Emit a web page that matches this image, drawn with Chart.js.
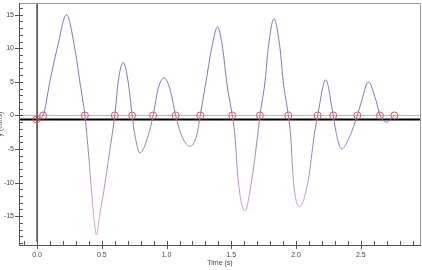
<!DOCTYPE html>
<html>
<head>
<meta charset="utf-8">
<script src="https://cdn.jsdelivr.net/npm/chart.js@4.4.0/dist/chart.umd.min.js"></script>
<style>
  html, body { margin: 0; padding: 0; background: #fff; }
  #wrap { width: 422px; height: 270px; }
</style>
</head>
<body>
<div id="wrap"><canvas id="velChart"></canvas></div>
<script>
// - Velocity trace

const timeS = [
  0.000, 0.046, 0.098, 0.155, 0.227, 0.291, 0.330, 0.369,
  0.394, 0.415, 0.437, 0.459, 0.482, 0.525, 0.563, 0.600,
  0.626, 0.665, 0.703, 0.734,
  0.756, 0.794, 0.858, 0.896,
  0.935, 0.979, 1.025, 1.070,
  1.116, 1.180, 1.232, 1.260,
  1.304, 1.348, 1.394, 1.433, 1.464, 1.507,
  1.528, 1.553, 1.605, 1.657, 1.703, 1.721,
  1.760, 1.785, 1.829, 1.876, 1.901, 1.940,
  1.958, 1.979, 2.025, 2.094, 2.140, 2.167,
  2.229, 2.287,
  2.314, 2.352, 2.417, 2.473,
  2.507, 2.558, 2.618, 2.648,
  2.700, 2.759
]
const velocity = [
  -0.6, 0, 5, 10, 15, 10, 5, 0,
  -5, -10, -15, -17.8, -15, -10, -5, 0,
  5, 7.9, 5, 0,
  -3, -5.6, -3, 0,
  4, 5.6, 4, 0,
  -3, -4.6, -3, 0,
  5, 10, 13.2, 10, 5, 0,
  -3, -9.7, -14.2, -9.7, -3, 0,
  5, 10, 14.4, 10, 5, 0,
  -3, -9.7, -13.6, -9.7, -3, 0,
  5.3, 0,
  -3, -5.0, -3, 0,
  2.2, 5.0, 2.2, 0,
  -1.0, 0
]

// - Zero crossings (red circles)

const crossT = [-0.005, 0.046, 0.369, 0.600, 0.734, 0.896, 1.070, 1.260, 1.507, 1.721, 1.940, 2.167, 2.287, 2.473, 2.648, 2.759]
const crossV = [-0.6, 0, 0, 0, 0, 0, 0, 0, 0, 0, 0, 0, 0, 0, 0, 0]

// - Axes

const xMin = -0.14
const xMax = 2.965
const yMin = -19.3
const yMax = 16.75
const baseLevel = -0.6

const isStep = (v, s) => Math.abs(v / s - Math.round(v / s)) < 1e-6

Chart.defaults.font.family = '"Liberation Sans", Arial, sans-serif'
Chart.defaults.font.size = 7
Chart.defaults.color = '#444'

const traceColor = (ctx) => {
  const chart = ctx.chart
  if (!chart.chartArea) return '#7878cc'
  const y = chart.scales.y
  const g = chart.ctx.createLinearGradient(0, y.getPixelForValue(0), 0, y.getPixelForValue(-15))
  g.addColorStop(0, '#7878cc')
  g.addColorStop(1, '#dc9cc8')
  return g
}

// inward ticks + frame
const frame = {
  id: 'frame',
  afterDatasetsDraw(chart) {
    const { ctx, chartArea: a, scales: { x, y } } = chart
    ctx.save()
    ctx.lineWidth = 1
    ctx.strokeStyle = '#999'
    ctx.beginPath()
    ctx.moveTo(a.left, a.top + 0.5)
    ctx.lineTo(a.right - 0.5, a.top + 0.5)
    ctx.lineTo(a.right - 0.5, a.bottom)
    ctx.stroke()

    ctx.strokeStyle = '#555'
    ctx.beginPath()
    ctx.moveTo(a.left + 0.5, a.top)
    ctx.lineTo(a.left + 0.5, a.bottom + 0.5)
    ctx.lineTo(a.right, a.bottom + 0.5)
    x.ticks.forEach(t => {
      const px = Math.round(x.getPixelForValue(t.value)) + 0.5
      const major = isStep(t.value, 0.5)
      ctx.moveTo(px, a.bottom - 4)
      ctx.lineTo(px, a.bottom + (major ? 4 : 0))
    })
    y.ticks.forEach(t => {
      const py = Math.round(y.getPixelForValue(t.value)) + 0.5
      const major = isStep(t.value, 5)
      ctx.moveTo(a.left - (major ? 4 : 0), py)
      ctx.lineTo(a.left + 4, py)
    })
    ctx.stroke()
    ctx.restore()
  }
}

const data = {
  datasets: [
    {
      label: 'zero',
      data: [{ x: xMin, y: 0 }, { x: xMax, y: 0 }],
      borderColor: '#b4b4b4',
      borderWidth: 1,
      pointRadius: 0,
      order: 5
    },
    {
      label: 'base',
      data: [{ x: xMin, y: baseLevel }, { x: xMax, y: baseLevel }],
      borderColor: '#000',
      borderWidth: 2,
      pointRadius: 0,
      order: 4
    },
    {
      label: 'origin',
      data: [{ x: 0, y: yMax }, { x: 0, y: -18.8 }],
      borderColor: '#555',
      borderWidth: 1,
      pointRadius: 0,
      order: 3
    },
    {
      label: 'velocity',
      data: timeS.map((t, i) => ({ x: t, y: velocity[i] })),
      borderColor: traceColor,
      borderWidth: 1,
      pointRadius: 0,
      cubicInterpolationMode: 'monotone',
      order: 2
    },
    {
      label: 'crossings',
      data: crossT.map((t, i) => ({ x: t, y: crossV[i] })),
      showLine: false,
      pointStyle: 'circle',
      pointRadius: 3.5,
      pointBorderWidth: 1,
      pointBorderColor: '#e05a5a',
      pointBackgroundColor: 'rgba(0,0,0,0)',
      order: 1
    }
  ]
}

const config = {
  type: 'line',
  data: data,
  options: {
    responsive: true,
    maintainAspectRatio: false,
    animation: false,
    events: [],
    layout: { autoPadding: false, padding: { top: 3, right: 1, left: 0, bottom: 0 } },
    plugins: {
      legend: { display: false },
      tooltip: { enabled: false }
    },
    scales: {
      x: {
        type: 'linear',
        min: xMin,
        max: xMax,
        grid: { display: false, drawTicks: false },
        border: { display: false },
        ticks: {
          stepSize: 0.1,
          includeBounds: false,
          autoSkip: false,
          maxRotation: 0,
          padding: 6,
          callback: (v) => isStep(v, 0.5) ? v.toFixed(1) : ''
        },
        title: { display: true, text: 'Time (s)', padding: { top: 0, bottom: 3 } },
        afterFit: (s) => { s.height = 25; s.paddingLeft = 0; s.paddingRight = 0 }
      },
      y: {
        min: yMin,
        max: yMax,
        grid: { display: false, drawTicks: false },
        border: { display: false },
        ticks: {
          stepSize: 1,
          includeBounds: false,
          autoSkip: false,
          padding: 5,
          callback: (v) => isStep(v, 5) ? String(Math.round(v)) : ''
        },
        title: { display: true, text: 'y (cm/s)', padding: { top: -4, bottom: 0 } },
        afterFit: (s) => { s.width = 19; s.paddingTop = 0; s.paddingBottom = 0 }
      }
    }
  },
  plugins: [frame]
}

const velChart = new Chart(document.getElementById('velChart'), config)
</script>
</body>
</html>
